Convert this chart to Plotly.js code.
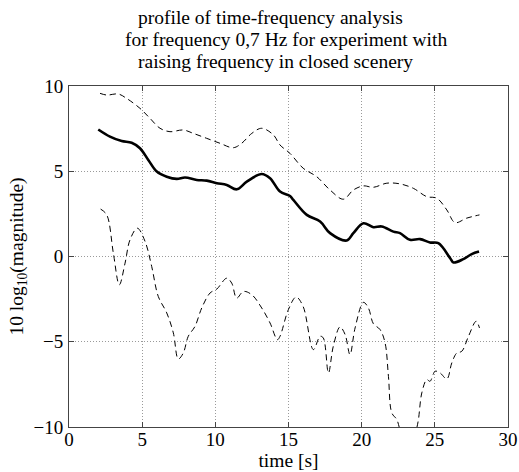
<!DOCTYPE html>
<html>
<head>
<meta charset="utf-8">
<script src="https://cdn.plot.ly/plotly-3.0.1.min.js"></script>
<style>html,body{margin:0;padding:0;background:#fff;}#chart{width:519px;height:472px;}</style>
</head>
<body>
<div id="chart"></div>
<script>
// Mean profile (solid)
var meanT = [2.0,2.8,3.6,4.28,4.85,5.42,6.0,6.68,7.36,7.93,8.73,9.41,10.1,10.78,11.46,12.15,13.17,13.74,14.42,15.1,15.33,16.25,17.16,17.84,18.98,19.43,20.12,20.8,21.37,22.17,22.62,23.3,23.99,24.67,25.24,26.05,26.27,26.95,27.52,28.02];
var meanV = [7.45,7.03,6.77,6.67,6.35,5.66,4.98,4.68,4.55,4.63,4.49,4.45,4.3,4.2,3.94,4.39,4.84,4.59,3.81,3.55,3.32,2.44,2.05,1.37,0.94,1.37,1.95,1.72,1.76,1.46,1.37,0.98,1.02,0.82,0.78,-0.1,-0.35,-0.15,0.14,0.29];
// Upper bound (dashed)
var upperT = [2.12,2.58,3.37,3.94,4.85,5.54,6.22,6.9,7.81,8.5,9.41,10.32,11.23,11.8,12.49,13.17,13.97,14.42,15.1,16.0,16.93,17.84,18.75,19.43,20.12,20.8,21.72,22.62,23.53,24.45,25.13,25.82,26.38,27.18,28.05];
var upperV = [9.57,9.47,9.53,9.27,8.69,8.1,7.52,7.32,7.42,7.22,6.93,6.64,6.38,6.64,7.22,7.52,7.13,6.54,6.05,5.18,4.68,3.9,3.36,3.9,4.14,4.06,4.3,4.26,4.0,3.51,3.42,2.73,1.99,2.25,2.44];
// Lower bound (dashed)
var lowerT = [2.16,2.58,3.03,3.44,3.83,4.17,4.67,5.2,5.65,6.1,6.68,7.13,7.47,7.81,8.15,8.61,9.07,9.64,10.1,10.78,11.12,11.46,11.92,12.49,13.17,13.74,14.24,14.42,14.99,15.52,16.0,16.7,17.16,17.38,17.73,18.06,18.52,18.87,19.2,19.55,20.12,20.46,20.8,21.26,21.6,21.83,22.06,22.4,22.6,23.2,23.75,23.88,24.11,24.45,24.67,25.02,25.36,25.82,26.16,26.5,26.84,27.3,27.82,28.05];
var lowerV = [2.78,2.44,0.2,-1.66,-0.39,0.98,1.66,0.88,-0.58,-2.34,-3.31,-4.48,-6.01,-5.66,-4.68,-4.1,-3.02,-2.14,-1.91,-1.27,-1.56,-2.44,-2.05,-2.24,-3.02,-3.9,-4.88,-4.68,-3.12,-2.38,-2.93,-5.46,-4.68,-4.78,-6.83,-5.27,-4.13,-4.58,-5.75,-4.19,-2.69,-3.02,-3.94,-4.29,-5.07,-7.03,-9.17,-9.56,-10.1,-11.5,-10.1,-9.56,-8.0,-7.22,-7.32,-6.73,-6.83,-7.18,-6.24,-5.66,-5.56,-4.68,-3.8,-4.19];

var titleLines = ["profile of time-frequency analysis","for frequency 0,7 Hz for experiment with","raising frequency in closed scenery"];
var xTitle = "time [s]";
var yTitle = "10 log<sub>10</sub>(magnitude)";

var font = "Liberation Serif, Times New Roman, serif";
var traces = [
  {x: upperT, y: upperV, mode:'lines', line:{color:'#000', width:1, dash:'6px,4px', shape:'spline'}, hoverinfo:'skip'},
  {x: meanT, y: meanV, mode:'lines', line:{color:'#000', width:2.6, shape:'spline'}, hoverinfo:'skip'},
  {x: lowerT, y: lowerV, mode:'lines', line:{color:'#000', width:1, dash:'6px,4px', shape:'spline'}, hoverinfo:'skip'}
];
var axisCommon = {
  showline:true, mirror:'ticks', linecolor:'#444', linewidth:1,
  ticks:'inside', ticklen:5, tickcolor:'#444',
  showgrid:true, gridcolor:'#9a9a9a', griddash:'1px,2px', gridwidth:1,
  zeroline:false, tickfont:{family:font, size:19, color:'#000'}
};
var layout = {
  width:519, height:472,
  margin:{l:69, r:11, t:86, b:45},
  paper_bgcolor:'#fff', plot_bgcolor:'#fff',
  showlegend:false,
  font:{family:font, color:'#000'},
  xaxis: Object.assign({}, axisCommon, {range:[0,30], tickvals:[0,5,10,15,20,25,30], ticklabelstandoff:-5,
    title:{text:xTitle, font:{family:font, size:19.5}, standoff:3}}),
  yaxis: Object.assign({}, axisCommon, {range:[-10,10], tickvals:[-10,-5,0,5,10], ticklabelstandoff:1,
    title:{text:yTitle, font:{family:font, size:19.5}, standoff:4}}),
  annotations: [
    {text:titleLines[0], x:270, y:18},
    {text:titleLines[1], x:286, y:40},
    {text:titleLines[2], x:275, y:61}
  ]
};
// position title lines in pixels
layout.annotations = layout.annotations.map(function(a){
  var pw = 519-69-11, ph = 472-86-45;
  return {text:a.text, showarrow:false, xref:'paper', yref:'paper',
    x:(a.x-69)/pw, y:(472-45-a.y)/ph, xanchor:'center', yanchor:'middle',
    font:{family:font, size:19.5, color:'#000'}};
});
Plotly.newPlot('chart', traces, layout, {staticPlot:true, displayModeBar:false});
</script>
</body>
</html>
